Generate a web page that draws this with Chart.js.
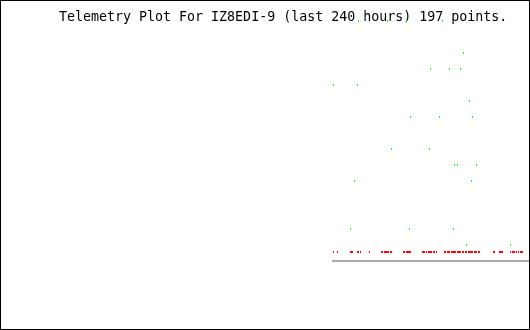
<!DOCTYPE html>
<html>
<head>
<meta charset="utf-8">
<script src="https://cdn.jsdelivr.net/npm/chart.js@4/dist/chart.umd.min.js"></script>
<style>
  body { margin: 0; background: #ffffff; }
  #wrap { width: 530px; height: 330px; position: relative; }
</style>
</head>
<body>
<div id="wrap"><canvas id="chart1"></canvas></div>
<script>
// hours before now
var greenHours = [
  -97.75, -89.25, -87.25, -85.75, -85.25, -70.75, -68.75, -61.25, -59.75, -59.25,
  -49.75, -49.25, -44.75, -43.25, -39.75, -37.75, -37.25, -35.75, -34.25, -32.75,
  -31.25, -29.75, -28.75, -28.25, -26.25, -9.25
];
var greenValues = [
  11, 2, 5, 11, 15, 15, 7, 15, 2, 9,
  7, 12, 9, 15, 12, 2, 6, 6, 12, 13,
  1, 10, 5, 9, 6, 1
];

var redHours = [
  -97.75, -95.75, -89.25, -88.75, -88.25, -85.75, -85.25, -84.25, -79.75,
  -73.75, -73.25, -72.25, -71.75, -71.25, -70.75, -70.25, -69.25, -68.75,
  -62.75, -62.25, -61.25, -60.75, -60.25, -59.75, -59.25,
  -53.25, -52.75, -52.25, -51.25, -50.25, -49.75, -49.25, -48.75, -47.75, -47.25, -46.25,
  -42.25, -41.75, -40.75, -40.25, -39.75, -38.75, -38.25, -37.75, -37.25, -36.75,
  -35.75, -35.25, -34.75, -34.25, -33.25, -32.75, -31.75, -31.25,
  -30.25, -29.75, -29.25, -28.75, -28.25, -27.25, -26.75, -26.25, -25.25, -24.75,
  -17.75, -17.25, -14.75, -14.25, -13.75, -13.25,
  -9.25, -8.25, -7.75, -7.25, -6.25, -5.25, -4.25, -3.75, -3.25
];
var redValues = [
  0.56, 0.56, 0.56, 0.56, 0.56, 0.56, 0.56, 0.56, 0.56,
  0.56, 0.56, 0.56, 0.56, 0.56, 0.56, 0.56, 0.56, 0.56,
  0.56, 0.56, 0.56, 0.56, 0.56, 0.56, 0.56,
  0.56, 0.56, 0.56, 0.56, 0.56, 0.56, 0.56, 0.56, 0.56, 0.56, 0.56,
  0.56, 0.56, 0.56, 0.56, 0.56, 0.56, 0.56, 0.56, 0.56, 0.56,
  0.56, 0.56, 0.56, 0.56, 0.56, 0.56, 0.56, 0.56,
  0.56, 0.56, 0.56, 0.56, 0.56, 0.56, 0.56, 0.56, 0.56, 0.56,
  0.56, 0.56, 0.56, 0.56, 0.56, 0.56,
  0.56, 0.56, 0.56, 0.56, 0.56, 0.56, 0.56, 0.56, 0.56
];

// zero line under the data
var baseHours = [-98.5, 0];
var baseValues = [0, 0];

var titleText = "Telemetry Plot For IZ8EDI-9 (last 240 hours) 197 points.";

function toPoints(xs, ys) {
  var out = [];
  for (var i = 0; i < xs.length; i++) {
    out.push({x: xs[i], y: ys[i]});
  }
  return out;
}

var frame = {
  id: 'frame',
  afterDraw: function(chart) {
    var ctx = chart.ctx;
    ctx.save();
    ctx.strokeStyle = "#000000";
    ctx.lineWidth = 1;
    ctx.strokeRect(0.5, 0.5, chart.width - 1, chart.height - 1);
    ctx.restore();
  }
};

var datos = {
  type: "scatter",
  data: {
    datasets: [{
      type: "line",
      data: toPoints(baseHours, baseValues),
      borderColor: "#aaaaaa",
      borderWidth: 2,
      pointRadius: 0,
      clip: false
    }, {
      data: toPoints(redHours, redValues),
      pointStyle: "line",
      rotation: 90,
      pointRadius: 1,
      borderWidth: 1,
      borderColor: "#ff0000",
      backgroundColor: "#ff0000",
      clip: false
    }, {
      data: toPoints(greenHours, greenValues),
      pointStyle: "line",
      rotation: 90,
      pointRadius: 1,
      borderWidth: 1,
      borderColor: "#00ff00",
      backgroundColor: "#00ff00",
      clip: false
    }]
  },
  options: {
    responsive: true,
    maintainAspectRatio: false,
    animation: false,
    events: [],
    layout: {
      autoPadding: false,
      // the title sits inside the plot, the points run over it
      padding: {left: 59, right: 1, top: 17, bottom: 1}
    },
    plugins: {
      legend: {display: false},
      tooltip: {enabled: false},
      title: {
        display: true,
        text: titleText,
        align: "start",
        color: "#000000",
        padding: {top: 0, bottom: 0},
        font: {family: "'DejaVu Sans Mono', monospace", size: 13.3, weight: "normal", lineHeight: "2px"}
      }
    },
    scales: {
      x: {type: "linear", min: -235, max: 0, display: false},
      y: {type: "linear", min: -4.25, max: 15.125, display: false}
    }
  },
  plugins: [frame]
};

var canvas = document.getElementById('chart1').getContext('2d');
window.plot = new Chart(canvas, datos);
</script>
</body>
</html>
